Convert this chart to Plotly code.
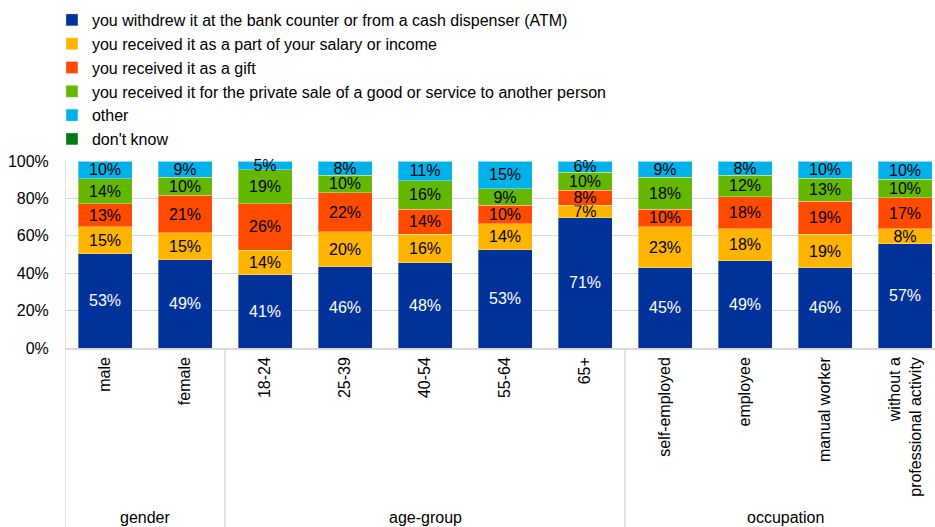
import plotly.graph_objects as go

# Categories along the x axis
categories = ["male", "female", "18-24", "25-39", "40-54", "55-64", "65+",
              "self-employed", "employee", "manual worker",
              "without a<br>professional activity"]

# Share of respondents (%) per source of cash
atm = [53, 49, 41, 46, 48, 53, 71, 45, 49, 46, 57]
salary = [15, 15, 14, 20, 16, 14, 7, 23, 18, 19, 8]
gift = [13, 21, 26, 22, 14, 10, 8, 10, 18, 19, 17]
private_sale = [14, 10, 19, 10, 16, 9, 10, 18, 12, 13, 10]
other = [10, 9, 5, 8, 11, 15, 6, 9, 8, 10, 10]
dont_know = [0, 0, 0, 0, 0, 0, 0, 0, 0, 0, 0]

series_names = [
    "you withdrew it at the bank counter or from a cash dispenser (ATM)",
    "you received it as a part of your salary or income",
    "you received it as a gift",
    "you received it for the private sale of a good or service to another person",
    "other",
    "don't know",
]
series_values = [atm, salary, gift, private_sale, other, dont_know]
colors = ["#003299", "#FFB400", "#FF4B00", "#65B800", "#00B1EA", "#007816"]
label_colors = ["#ffffff", "#000000", "#000000", "#000000", "#000000", "#000000"]

# Y axis ticks
y_ticks = [0, 20, 40, 60, 80, 100]
y_tick_labels = ["0%", "20%", "40%", "60%", "80%", "100%"]

# Group headings under the category labels
groups = ["gender", "age-group", "occupation"]
group_centers = [0.5, 4, 8.5]
group_bounds = [-0.5, 1.5, 6.5]

FONT = "Liberation Sans, Arial, sans-serif"
FS = 16

fig = go.Figure()
for name, vals, col, lc in zip(series_names, series_values, colors, label_colors):
    fig.add_trace(go.Bar(
        x=categories,
        y=vals,
        name=name,
        marker=dict(color=col, line=dict(color="rgba(255,255,255,0.35)", width=1)),
        text=[f"{v}%" if v > 0 else "" for v in vals],
        textposition="inside",
        insidetextanchor="middle",
        textangle=0,
        textfont=dict(color=lc, size=FS, family=FONT),
        cliponaxis=False,
        hoverinfo="skip",
    ))

W, H = 935, 527
plot_top, plot_bottom = 161, 348
plot_h = plot_bottom - plot_top


def py(pix):
    """Convert a page pixel row to a paper y coordinate."""
    return (plot_bottom - pix) / plot_h


shapes = []
for b in group_bounds:
    shapes.append(dict(type="line", xref="x", yref="paper", x0=b, x1=b,
                       y0=py(H + 2), y1=0 if b != -0.5 else 1,
                       line=dict(color="#d9d9d9", width=1.5), layer="below"))

annotations = []
for g, c in zip(groups, group_centers):
    annotations.append(dict(text=g, x=c, xref="x", y=py(517), yref="paper",
                            showarrow=False, xanchor="center", yanchor="middle",
                            font=dict(size=FS, family=FONT, color="#000000")))

fig.update_layout(
    width=W, height=H,
    margin=dict(l=65, r=0, t=plot_top, b=H - plot_bottom, pad=0),
    barmode="stack",
    barnorm="percent",
    bargap=0.325,
    plot_bgcolor="white",
    paper_bgcolor="white",
    font=dict(family=FONT, size=FS, color="#000000"),
    uniformtext=dict(minsize=FS, mode="show"),
    showlegend=True,
    legend=dict(
        x=-0.015, xanchor="left",
        y=py(3), yanchor="top",
        traceorder="normal",
        font=dict(size=FS, family=FONT, color="#000000"),
        bgcolor="rgba(0,0,0,0)",
        itemclick=False, itemdoubleclick=False,
    ),
    xaxis=dict(
        range=[-0.5, 10.375],
        tickangle=-90,
        tickfont=dict(size=FS, family=FONT, color="#000000"),
        showline=True, linecolor="#d9d9d9", linewidth=1.5,
        ticks="outside", ticklen=1, tickcolor="rgba(0,0,0,0)",
        showgrid=False, fixedrange=True,
    ),
    yaxis=dict(
        range=[0, 100],
        tickmode="array",
        tickvals=y_ticks,
        ticktext=y_tick_labels,
        tickfont=dict(size=FS, family=FONT, color="#000000"),
        showgrid=True, gridcolor="#d9d9d9", gridwidth=1,
        showline=False, zeroline=False,
        ticks="outside", ticklen=12, tickcolor="rgba(0,0,0,0)",
        fixedrange=True,
    ),
    shapes=shapes,
    annotations=annotations,
)

fig.write_html("out.html")
